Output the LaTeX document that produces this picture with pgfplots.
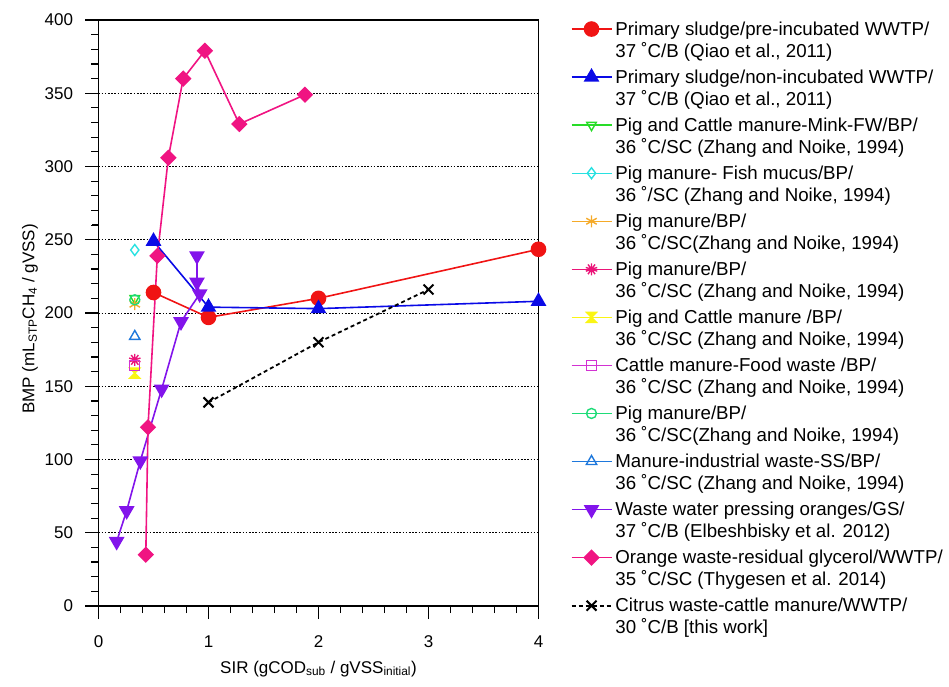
\documentclass[border=0pt]{standalone}
\usepackage{fontspec}
\setmainfont{Liberation Sans}
\usepackage{pgfplots}
\pgfplotsset{compat=1.18}
\usetikzlibrary{plotmarks}

\definecolor{cRed}{RGB}{240,20,20}
\definecolor{cBlue}{RGB}{10,10,230}
\definecolor{cGreen}{RGB}{40,220,40}
\definecolor{cCyan}{RGB}{40,225,225}
\definecolor{cOrange}{RGB}{245,170,40}
\definecolor{cPink}{RGB}{235,20,120}
\definecolor{cYellow}{RGB}{250,245,20}
\definecolor{cMag}{RGB}{210,50,210}
\definecolor{cSpring}{RGB}{30,220,120}
\definecolor{cDodger}{RGB}{30,120,220}
\definecolor{cPurple}{RGB}{130,20,235}
\definecolor{cRose}{RGB}{240,20,130}

\pgfdeclareplotmark{hourglass}{%
  \pgfpathmoveto{\pgfqpoint{-\pgfplotmarksize}{\pgfplotmarksize}}%
  \pgfpathlineto{\pgfqpoint{\pgfplotmarksize}{\pgfplotmarksize}}%
  \pgfpathlineto{\pgfqpoint{-\pgfplotmarksize}{-\pgfplotmarksize}}%
  \pgfpathlineto{\pgfqpoint{\pgfplotmarksize}{-\pgfplotmarksize}}%
  \pgfpathclose
  \pgfusepathqfillstroke}

\begin{document}
\begin{tikzpicture}
\begin{axis}[
  scale only axis, width=440pt, height=586pt,
  xmin=0, xmax=4, ymin=0, ymax=400,
  xtick={0,1,2,3,4}, ytick={0,50,...,400},
  minor x tick num=4, minor y tick num=4,
  tick align=outside, xtick pos=bottom, ytick pos=left,
  major tick length=13pt, minor tick length=7pt,
  tick style={draw=black,line width=1.2pt},
  axis line style={line width=1.2pt},
  ticklabel style={font=\fontsize{17}{20}\selectfont},
  xticklabel style={yshift=-13pt},
  yticklabel style={xshift=-9pt},
  /pgf/number format/assume math mode=true,
  xlabel={SIR (gCOD\textsubscript{sub} / gVSS\textsubscript{initial})},
  ylabel={BMP (mL\textsubscript{STP}CH\textsubscript{4} / gVSS)},
  every axis x label/.style={at={(axis description cs:0.5,-0.107)},anchor=center,font=\fontsize{17}{20}\selectfont},
  every axis y label/.style={at={(axis description cs:-0.156,0.49)},anchor=center,rotate=90,font=\fontsize{17}{20}\selectfont},
  legend style={at={(axis description cs:1.073,0.9974)},anchor=north west,draw=none,fill=none,
     inner sep=0pt,outer sep=0pt,
     font=\fontsize{18.7}{22}\selectfont,
     nodes={align=left,inner ysep=0pt,inner xsep=3pt}, row sep=11pt},
  legend cell align=left,
  legend image code/.code={\draw[yshift=11pt,mark repeat=2,mark phase=2,#1] plot coordinates {(0pt,0pt) (20pt,0pt) (40pt,0pt)};},
]
\coordinate (o) at (rel axis cs:0,0);
\pgfplotsinvokeforeach{50,100,...,350}{
  \draw[black,line width=0.9pt,dash pattern=on 1.6pt off 1.6pt] (axis cs:0,#1) -- (axis cs:4,#1);
}

\addplot[cRed, line width=1.6pt, mark=*, mark size=7pt] coordinates {(0.5,214)(1,197)(2,210)(4,243.5)};
\addlegendentry{Primary sludge/pre-incubated WWTP/\\37 ˚C/B (Qiao et al., 2011)}

\addplot[cBlue, line width=1.6pt, mark=triangle*, mark size=7.5pt] coordinates {(0.5,249)(1,204)(2,203)(4,208)};
\addlegendentry{Primary sludge/non-incubated WWTP/\\37 ˚C/B (Qiao et al., 2011)}

\addplot[cGreen, line width=1.4pt, mark=triangle, mark size=5.5pt, mark options={rotate=180}] coordinates {(0.33,210)};
\addlegendentry{Pig and Cattle manure-Mink-FW/BP/\\36 ˚C/SC (Zhang and Noike, 1994)}

\addplot[cCyan, line width=1.4pt, mark=diamond, mark size=5.5pt] coordinates {(0.33,243)};
\addlegendentry{Pig manure- Fish mucus/BP/\\36 ˚/SC (Zhang and Noike, 1994)}

\addplot[cOrange, line width=1.4pt, mark=asterisk, mark size=6pt] coordinates {(0.33,206)};
\addlegendentry{Pig manure/BP/\\36 ˚C/SC(Zhang and Noike, 1994)}

\addplot[cPink, line width=1.4pt, mark=10-pointed star, mark size=6pt, mark options={fill=cPink}] coordinates {(0.33,168)};
\addlegendentry{Pig manure/BP/\\36 ˚C/SC (Zhang and Noike, 1994)}

\addplot[cYellow, line width=1.4pt, mark=hourglass, mark size=5pt, mark options={fill=cYellow}] coordinates {(0.33,159)};
\addlegendentry{Pig and Cattle manure /BP/\\36 ˚C/SC (Zhang and Noike, 1994)}

\addplot[cMag, line width=1.4pt, mark=square, mark size=5pt] coordinates {(0.33,164)};
\addlegendentry{Cattle manure-Food waste /BP/\\36 ˚C/SC (Zhang and Noike, 1994)}

\addplot[cSpring, line width=1.4pt, mark=o, mark size=5pt] coordinates {(0.33,209)};
\addlegendentry{Pig manure/BP/\\36 ˚C/SC(Zhang and Noike, 1994)}

\addplot[cDodger, line width=1.4pt, mark=triangle, mark size=6pt] coordinates {(0.33,184)};
\addlegendentry{Manure-industrial waste-SS/BP/\\36 ˚C/SC (Zhang and Noike, 1994)}

\addplot[cPurple, line width=1.6pt, mark=triangle*, mark size=7.5pt, mark options={rotate=180}] coordinates {(0.165,44)(0.256,65)(0.38,99)(0.574,148)(0.75,194)(0.92,213)(0.895,221)(0.895,239)};
\addlegendentry{Waste water pressing oranges/GS/\\37 ˚C/B (Elbeshbisky et al. 2012)}

\addplot[cRose, line width=1.6pt, mark=square*, mark size=5pt, mark options={rotate=45}] coordinates {(0.43,35)(0.45,122)(0.535,239)(0.635,306)(0.77,360)(0.967,379)(1.28,329)(1.877,349)};
\addlegendentry{Orange waste-residual glycerol/WWTP/\\35 ˚C/SC (Thygesen et al. 2014)}

\addplot[black, line width=1.8pt, dash pattern=on 4pt off 3pt, mark=x, mark size=7pt, mark options={solid,line width=2pt}] coordinates {(1,139)(2,180)(3,216)};
\addlegendentry{Citrus waste-cattle manure/WWTP/\\30 ˚C/B [this work]}
\end{axis}
\foreach \i in {0,...,20}{%
  \pgfmathtruncatemacro\m{mod(\i,5)}%
  \ifnum\m=0 \def\len{13pt}\else\def\len{7pt}\fi
  \draw[black,line width=1.2pt] ([xshift=\i*22pt]o) -- ++(0,-\len);
}
\foreach \j in {0,...,40}{%
  \pgfmathtruncatemacro\m{mod(\j,5)}%
  \ifnum\m=0 \def\len{13pt}\else\def\len{7pt}\fi
  \draw[black,line width=1.2pt] ([yshift=\j*14.65pt]o) -- ++(-\len,0);
}
\pgfresetboundingbox
\path[use as bounding box] ([shift={(-98.5pt,-80pt)}]o) rectangle ([shift={(850.5pt,606pt)}]o);
\end{tikzpicture}
\end{document}
